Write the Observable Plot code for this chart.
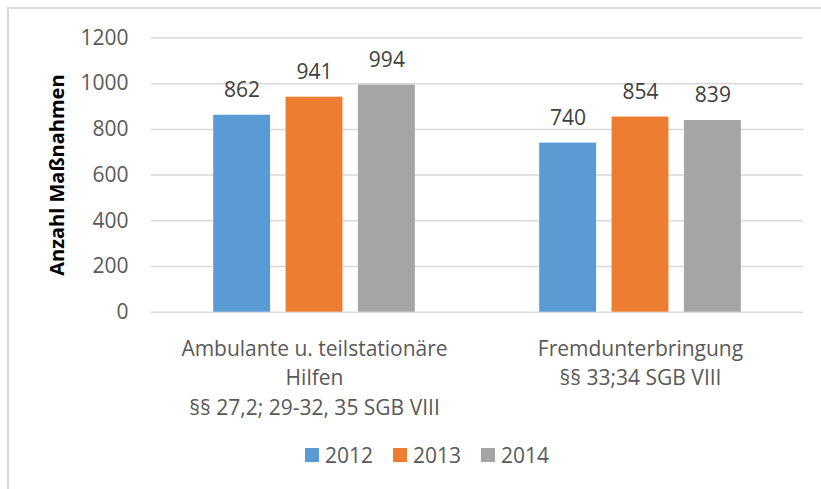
<!DOCTYPE html>
<html><head><meta charset="utf-8">
<script src="https://cdn.jsdelivr.net/npm/d3@7"></script>
<script src="https://cdn.jsdelivr.net/npm/@observablehq/plot@0.6"></script>
<style>
body{margin:0;background:#fff;}
#wrap{position:relative;width:821px;height:489px;overflow:hidden;font-family:"Open Sans",sans-serif;background:#fff;}
#frame{position:absolute;left:7px;top:7px;right:-10px;bottom:-10px;border-top:2px solid #d9d9d9;border-left:2px solid #d9d9d9;}
#chart{position:absolute;left:0;top:0;}
#legend{position:absolute;left:305px;top:438px;}
#legend .lg-swatches{font-family:"Open Sans",sans-serif !important;font-size:21px !important;color:#595959 !important;margin:0 !important;display:flex;align-items:center;min-height:33px;}
#legend .lg-swatch{margin-right:20px !important;}
#legend .lg-swatch > svg{margin-right:6px !important;}
</style></head><body>
<div id="wrap"><div id="frame"></div><div id="chart"></div><div id="legend"></div></div>
<script>
const categories = [
  "Ambulante u. teilstationäre\nHilfen\n§§ 27,2; 29-32, 35 SGB VIII",
  "Fremdunterbringung\n§§ 33;34 SGB VIII"
];
const years = ["2012", "2013", "2014"];
const values2012 = [862, 740];
const values2013 = [941, 854];
const values2014 = [994, 839];
const yTicks = [0, 200, 400, 600, 800, 1000, 1200];
const colors = ["#5B9BD5", "#ED7D31", "#A5A5A5"];
const yLabel = "Anzahl Maßnahmen";

const series = [values2012, values2013, values2014];
const data = categories.flatMap((c, i) => years.map((y, j) => ({category: c, year: y, value: series[j][i]})));

const plot = Plot.plot({
  width: 821,
  height: 430,
  marginLeft: 150,
  marginRight: 18,
  marginTop: 37.5,
  marginBottom: 118.3,
  style: {background: "transparent", fontFamily: "'Open Sans', sans-serif", fontSize: "21px", color: "#595959"},
  fx: {domain: categories, padding: 0, label: null},
  x: {domain: years, paddingInner: 0.214, paddingOuter: 0.859, axis: null, round: false},
  y: {domain: [0, 1200], label: null},
  color: {domain: years, range: colors},
  marks: [
    Plot.gridY(yTicks, {stroke: "#d9d9d9", strokeOpacity: 1, strokeWidth: 1.5}),
    Plot.axisY(yTicks, {tickSize: 0, tickPadding: 23, tickFormat: d => String(d), fontSize: 21, fill: "#595959", label: null}),
    Plot.barY(data, {fx: "category", x: "year", y: "value", fill: "year"}),
    Plot.text(data, {fx: "category", x: "year", y: "value", text: d => String(d.value), dy: -18, lineAnchor: "bottom", fill: "#404040", fontSize: 21}),
    Plot.axisFx({anchor: "bottom", tickSize: 0, tickPadding: 23, lineHeight: 1.4, fontSize: 21, fill: "#595959", label: null}),
    Plot.text([{c: categories[0], t: yLabel}], {fx: "c", text: "t", frameAnchor: "left", textAnchor: "middle", lineAnchor: "middle", rotate: -90, dx: -94, fontSize: 20, fontWeight: "bold", fill: "#000"})
  ]
});
document.getElementById("chart").appendChild(plot);
document.getElementById("legend").appendChild(plot.legend("color", {className: "lg", swatchSize: 14}));
</script>
</body></html>
